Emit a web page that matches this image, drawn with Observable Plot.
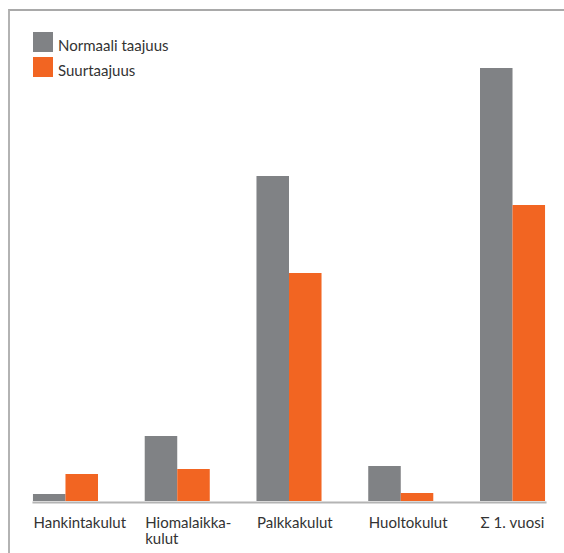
<!DOCTYPE html>
<html><head><meta charset="utf-8">
<script src="https://cdn.jsdelivr.net/npm/d3@7"></script>
<script src="https://cdn.jsdelivr.net/npm/@observablehq/plot@0.6"></script>
<style>
body{margin:0;background:#fff;}
#wrap{position:relative;width:564px;height:553px;overflow:hidden;font-family:Lato,sans-serif;}
#chart{position:absolute;left:0;top:0;}
#frame{position:absolute;left:8px;top:9px;width:600px;height:600px;border-top:2px solid #a9a9a9;border-left:2px solid #b3b3b3;pointer-events:none;}
#legend{position:absolute;left:33px;top:27px;font-size:15px;color:#333;}
.item{display:flex;align-items:flex-end;height:25px;line-height:15px;}
.sw{width:20px;height:20px;margin-right:5px;flex:none;}
.lbl{position:relative;top:1px;}
</style>
</head><body>
<div id="wrap"><div id="chart"></div><div id="frame"></div><div id="legend"></div></div>
<script>
const categories = ["Hankintakulut", "Hiomalaikkakulut", "Palkkakulut", "Huoltokulut", "Σ 1. vuosi"];
const tickLabels = ["Hankintakulut", "Hiomalaikka-\nkulut", "Palkkakulut", "Huoltokulut", "Σ 1. vuosi"];
const seriesNames = ["Normaali taajuus", "Suurtaajuus"];
const normaali = [7, 65, 325, 35, 433];
const suurtaajuus = [27, 32, 228, 8, 296];
const colors = ["#808285", "#f26522"];

const rows = [];
categories.forEach((c, i) => {
  rows.push({category: c, series: seriesNames[0], value: normaali[i]});
  rows.push({category: c, series: seriesNames[1], value: suurtaajuus[i]});
});
const labelRows = categories.map((c, i) => ({category: c, label: tickLabels[i]}));

const plot = Plot.plot({
  width: 564,
  height: 553,
  marginTop: 11,
  marginBottom: 52,
  marginLeft: 10,
  marginRight: 0,
  style: {fontFamily: "Lato, sans-serif", background: "transparent"},
  fx: {domain: categories, range: [9.6, 568.4], paddingInner: 0.418, paddingOuter: 0.209, round: false, axis: null, label: null},
  x: {domain: seriesNames, padding: 0, axis: null, round: false},
  y: {domain: [0, 490], axis: null},
  color: {domain: seriesNames, range: colors},
  marks: [
    Plot.frame({anchor: "bottom", facet: "super", stroke: "#b4b4b4", strokeWidth: 2, dy: 1}),
    Plot.barY(rows, {fx: "category", x: "series", y: "value", fill: "series", inset: 0}),
    Plot.text(labelRows, {fx: "category", text: "label", frameAnchor: "bottom-left", textAnchor: "start", lineAnchor: "top", dy: 15.5, fontSize: 15, lineHeight: 1.07, fill: "#333"})
  ]
});
document.getElementById("chart").appendChild(plot);

const legend = document.getElementById("legend");
seriesNames.forEach((s, i) => {
  const item = document.createElement("div");
  item.className = "item";
  const sw = document.createElement("div");
  sw.className = "sw";
  sw.style.background = colors[i];
  const lbl = document.createElement("span");
  lbl.className = "lbl";
  lbl.textContent = s;
  item.appendChild(sw);
  item.appendChild(lbl);
  legend.appendChild(item);
});
</script>
</body></html>
